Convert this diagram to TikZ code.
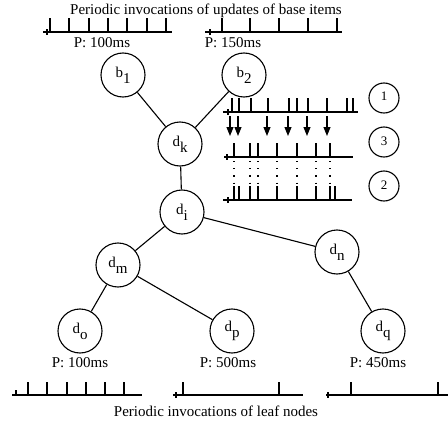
\documentclass[tikz,border=0pt]{standalone}
\usepackage{fontspec}
\setmainfont{Liberation Serif}
\usetikzlibrary{arrows.meta}
% timeline: x-start, x-end, y, origin x, tick list, tick height
\newcommand{\timeline}[6]{%
  \draw[axis] (#1,#3) -- (#2,#3);
  \draw[axis] (#4,#3-3) -- (#4,#3+3);
  \foreach \tk in {#5} \draw[axis] (\tk,#3) -- (\tk,#3-#6);
}
\begin{document}
\begin{tikzpicture}[x=1pt,y=-1pt,
  vertex/.style={circle,draw,line width=1.1pt,minimum size=44pt,inner sep=0pt,
    font=\fontsize{15}{15}\selectfont},
  tag/.style={circle,draw,line width=1.1pt,minimum size=30pt,inner sep=0pt,
    font=\fontsize{13}{13}\selectfont},
  caption/.style={font=\fontsize{15}{15}\selectfont,inner sep=0pt,anchor=base},
  axis/.style={line width=1.1pt},
  edge/.style={line width=1.1pt},
  arrival/.style={line width=1.1pt,-{Triangle[length=9pt,width=7pt]}},
  dots/.style={line width=1.2pt,dash pattern=on 1.2pt off 6pt}]
\useasboundingbox (0,0) rectangle (448,423);
% page background
\fill[white] (0,0) rectangle (448,423);

% captions
\node[caption] (ttop) at (206,15) {Periodic invocations of updates of base items};
\node[caption] (tbot) at (216,416) {Periodic invocations of leaf nodes};

% base item update timelines
\timeline{43}{172}{32}{47}{50,69,89,108,127,147,166}{14}
\timeline{205}{342}{32}{210}{222,250,279,308,337}{14}
\node[caption] (pb1) at (102,47) {P: 100ms};
\node[caption] (pb2) at (233,47) {P: 150ms};

% tree
\node[vertex] (b1) at (123,75) {b\raisebox{-0.4em}{1}};
\node[vertex] (b2) at (244,75) {b\raisebox{-0.4em}{2}};
\node[vertex] (dk) at (180,144) {d\raisebox{-0.4em}{k}};
\node[vertex] (di) at (182,212) {d\raisebox{-0.4em}{i}};
\node[vertex] (dm) at (118,265) {d\raisebox{-0.4em}{m}};
\node[vertex] (dn) at (337,252) {d\raisebox{-0.4em}{n}};
\node[vertex] (do) at (80,331) {d\raisebox{-0.4em}{o}};
\node[vertex] (dp) at (232,331) {d\raisebox{-0.4em}{p}};
\node[vertex] (dq) at (383,331) {d\raisebox{-0.4em}{q}};

\draw[edge] (b1) -- (dk);
\draw[edge] (b2) -- (dk);
\draw[edge] (dk) -- (di);
\draw[edge] (di) -- (dm);
\draw[edge] (di) -- (dn);
\draw[edge] (dm) -- (do);
\draw[edge] (dm) -- (dp);
\draw[edge] (dn) -- (dq);

% leaf periods
\node[caption] (po) at (80,367) {P: 100ms};
\node[caption] (pp) at (228,367) {P: 500ms};
\node[caption] (pq) at (378,367) {P: 450ms};

% leaf invocation timelines
\draw[axis] (12,395) -- (142,395);
\draw[axis] (16,395) -- (16,390);
\foreach \tk in {28,47,67,86,105,124} \draw[axis] (\tk,395) -- (\tk,382);
\timeline{173}{303}{395}{176}{183,279}{13}
\timeline{326}{448}{395}{328}{351,438}{13}

% update arrivals at d_k (1)
\timeline{223}{358}{112}{228}{232,239,251,289,297,308,347,353}{14}
\draw[line width=2.2pt] (268,112) -- (268,98);
\draw[line width=2.2pt] (327,112) -- (327,98);
\foreach \a in {230,238,267,288,307,327}
  \draw[arrival] (\a,116) -- (\a,136);

% triggered recomputations (3)
\timeline{224}{353}{157}{227}{234,250,258,277,297,316,330}{14}
\foreach \d in {234,250,258,277,297,316,330}
  \draw[dots] (\d,161) -- (\d,183);

% resulting invocations (2)
\timeline{223}{352}{200}{228}{234,239,250,258,277,297,316,330}{14}
\draw[line width=2.2pt] (335,200) -- (335,186);

% step tags
\node[tag] (s1) at (384,98) {\raisebox{0.2em}{1}};
\node[tag] (s3) at (384,142) {\raisebox{0.2em}{3}};
\node[tag] (s2) at (384,186) {\raisebox{0.2em}{2}};
\end{tikzpicture}
\end{document}
